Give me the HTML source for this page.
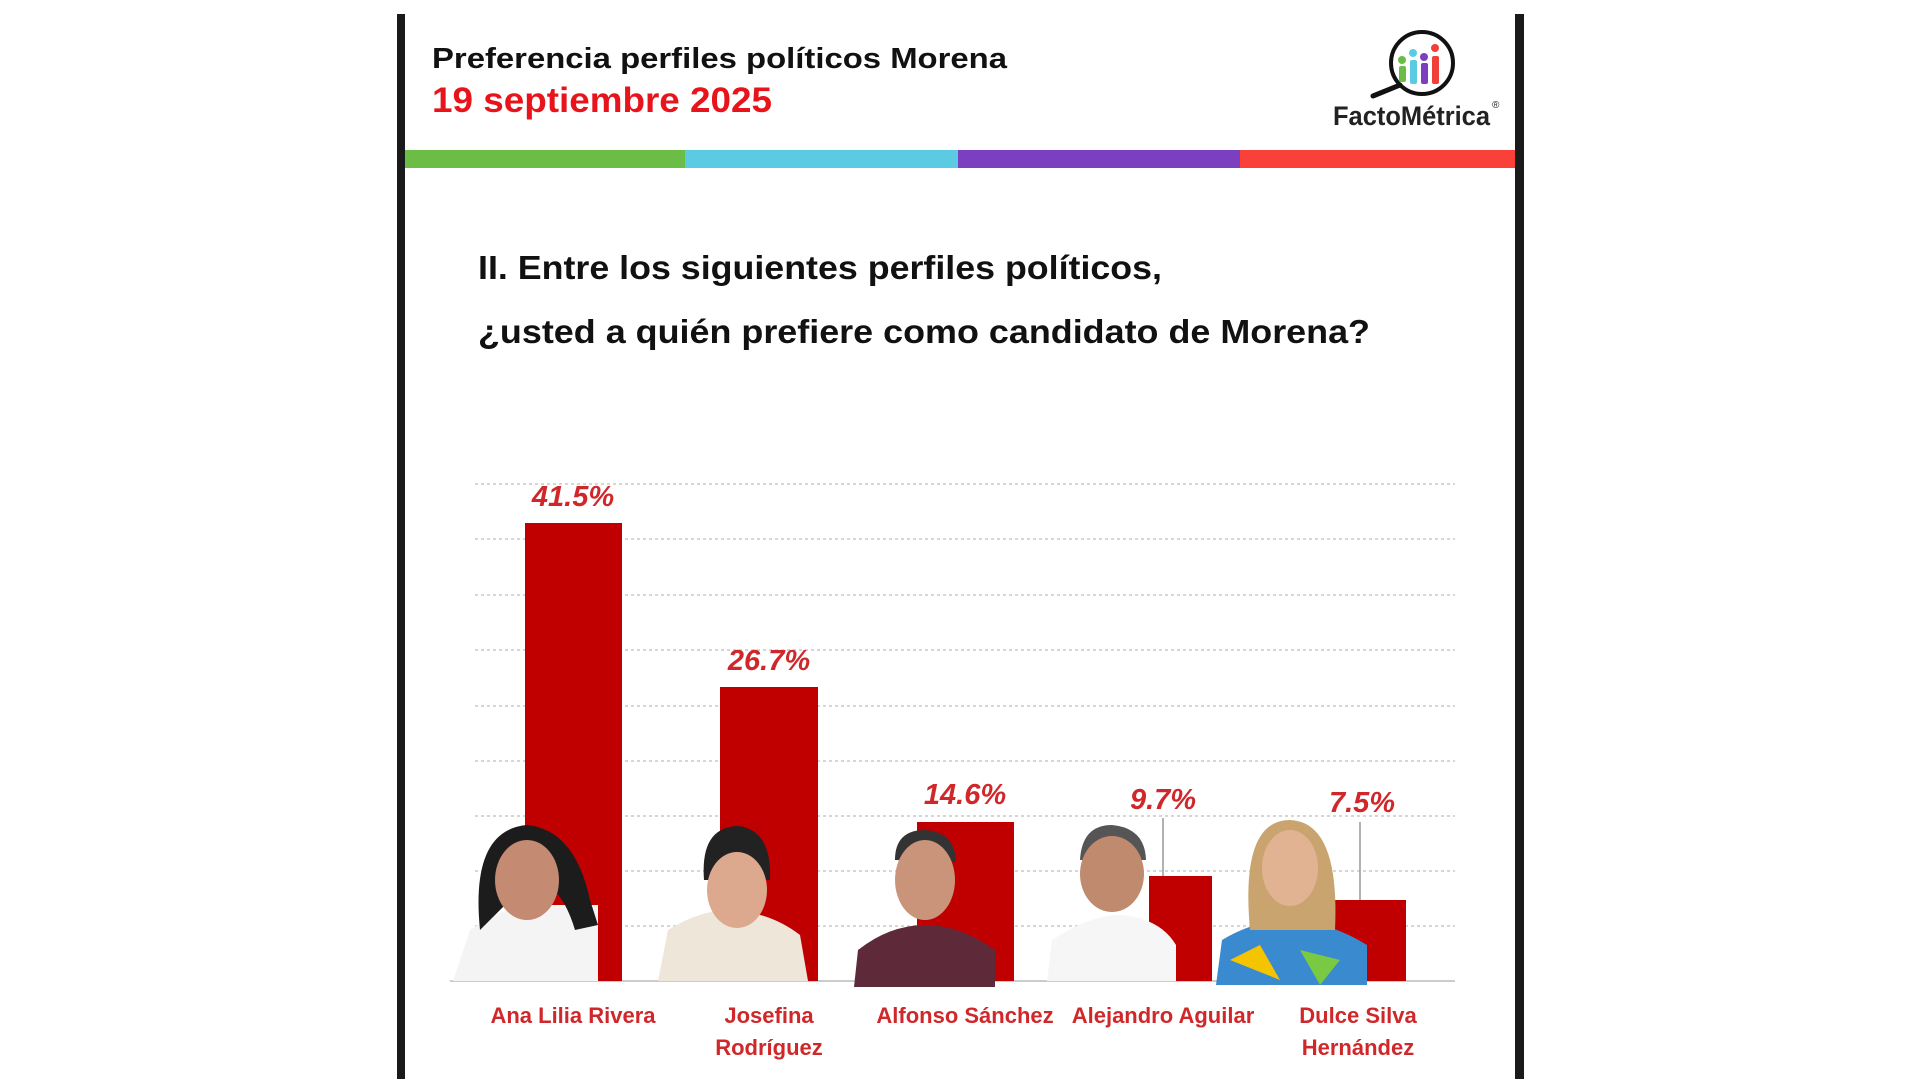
<!DOCTYPE html>
<html><head><meta charset="utf-8"><style>
html,body{margin:0;padding:0;background:#fff;}
svg{display:block}
</style></head><body>
<svg width="1920" height="1079" viewBox="0 0 1920 1079" xmlns="http://www.w3.org/2000/svg" font-family="Liberation Sans, sans-serif">
<rect width="1920" height="1079" fill="#fff"/>
<rect x="397" y="14" width="8" height="1065" fill="#1a1a1a"/>
<rect x="1515" y="14" width="9" height="1065" fill="#1a1a1a"/>
<text x="432" y="68" font-size="29" font-weight="bold" fill="#111" textLength="575" lengthAdjust="spacingAndGlyphs">Preferencia perfiles políticos Morena</text>
<text x="432" y="112" font-size="35" font-weight="bold" fill="#e8141c" textLength="340" lengthAdjust="spacingAndGlyphs">19 septiembre 2025</text>
<!-- logo -->
<circle cx="1422" cy="63" r="31" fill="none" stroke="#111" stroke-width="4"/>
<line x1="1400" y1="85" x2="1373" y2="96" stroke="#111" stroke-width="5" stroke-linecap="round"/>
<rect x="1399" y="66" width="7" height="16" rx="2" fill="#6bbd45"/><circle cx="1402" cy="60" r="4" fill="#6bbd45"/>
<rect x="1410" y="60" width="7" height="24" rx="2" fill="#5bcbe3"/><circle cx="1413" cy="53" r="4" fill="#5bcbe3"/>
<rect x="1421" y="63" width="7" height="21" rx="2" fill="#7b3fbf"/><circle cx="1424" cy="57" r="4" fill="#7b3fbf"/>
<rect x="1432" y="56" width="7" height="28" rx="2" fill="#f0403a"/><circle cx="1435" cy="48" r="4" fill="#f0403a"/>
<text x="1333" y="125" font-size="27" font-weight="bold" fill="#222" textLength="157" lengthAdjust="spacingAndGlyphs">FactoMétrica</text>
<text x="1492" y="108" font-size="10" fill="#222">®</text>
<!-- strip -->
<rect x="405" y="150" width="280" height="18" fill="#6bbd45"/>
<rect x="685" y="150" width="273" height="18" fill="#5bcbe3"/>
<rect x="958" y="150" width="282" height="18" fill="#7b3fbf"/>
<rect x="1240" y="150" width="275" height="18" fill="#f9413a"/>
<!-- question -->
<text x="478" y="279" font-size="33" font-weight="bold" fill="#111" textLength="684" lengthAdjust="spacingAndGlyphs">II. Entre los siguientes perfiles políticos,</text>
<text x="478" y="343" font-size="33" font-weight="bold" fill="#111" textLength="892" lengthAdjust="spacingAndGlyphs">¿usted a quién prefiere como candidato de Morena?</text>
<!-- grid -->
<g stroke="#d6d6d6" stroke-width="2" stroke-dasharray="3 3">
<line x1="475" y1="484" x2="1455" y2="484"/><line x1="475" y1="539" x2="1455" y2="539"/>
<line x1="475" y1="595" x2="1455" y2="595"/><line x1="475" y1="650" x2="1455" y2="650"/>
<line x1="475" y1="706" x2="1455" y2="706"/><line x1="475" y1="761" x2="1455" y2="761"/>
<line x1="475" y1="816" x2="1455" y2="816"/><line x1="475" y1="871" x2="1455" y2="871"/>
<line x1="475" y1="926" x2="1455" y2="926"/>
</g>
<line x1="450" y1="981" x2="1455" y2="981" stroke="#ccc" stroke-width="2"/>
<!-- bars -->
<g fill="#c00000">
<rect x="525" y="523" width="97" height="458"/>
<rect x="720" y="687" width="98" height="294"/>
<rect x="917" y="822" width="97" height="159"/>
<rect x="1149" y="876" width="63" height="105"/>
<rect x="1335" y="900" width="71" height="81"/>
</g>
<line x1="1163" y1="818" x2="1163" y2="876" stroke="#999" stroke-width="1.5"/>
<line x1="1360" y1="822" x2="1360" y2="900" stroke="#999" stroke-width="1.5"/>
<!-- photos -->
<g>
<path d="M453 981 L470 930 Q500 910 525 905 L598 905 L598 981Z" fill="#f4f4f4"/>
<path d="M480 930 Q470 830 527 825 Q575 830 590 900 L598 925 L575 930 Q560 880 530 880 Z" fill="#1c1c1c"/>
<ellipse cx="527" cy="880" rx="32" ry="40" fill="#c48a72"/>
<path d="M658 981 L668 930 Q700 910 730 910 Q770 912 800 935 L808 981Z" fill="#efe6da"/>
<path d="M704 880 Q700 827 738 826 Q772 830 770 880 Z" fill="#222"/>
<ellipse cx="737" cy="890" rx="30" ry="38" fill="#dca88e"/>
<path d="M854 987 L858 950 Q890 925 925 925 Q960 925 995 950 L995 987Z" fill="#5e2a3a"/>
<path d="M895 860 Q895 830 925 830 Q955 832 956 862 Z" fill="#333"/>
<ellipse cx="925" cy="880" rx="30" ry="40" fill="#c99479"/>
<path d="M1047 981 L1052 940 Q1090 915 1120 915 Q1160 918 1176 945 L1176 981Z" fill="#f6f6f6"/>
<path d="M1080 860 Q1082 825 1112 825 Q1145 828 1146 860 Z" fill="#555"/>
<ellipse cx="1112" cy="874" rx="32" ry="38" fill="#c08a6e"/>
<path d="M1216 985 L1222 940 Q1255 920 1290 920 Q1330 922 1367 945 L1367 985Z" fill="#3a8ad0"/>
<path d="M1230 960 L1260 945 L1280 980 Z" fill="#f5c400"/><path d="M1300 950 L1340 960 L1320 985Z" fill="#7ac943"/>
<path d="M1250 930 Q1240 820 1290 820 Q1340 822 1335 930 Z" fill="#c9a46e"/>
<ellipse cx="1290" cy="868" rx="28" ry="38" fill="#e2b393"/>
</g>
<!-- value labels -->
<g font-size="29" font-weight="bold" font-style="italic" fill="#d0282a" text-anchor="middle">
<text x="573" y="506">41.5%</text>
<text x="769" y="670">26.7%</text>
<text x="965" y="804">14.6%</text>
<text x="1163" y="809">9.7%</text>
<text x="1362" y="812">7.5%</text>
</g>
<!-- names -->
<g font-size="22" font-weight="bold" fill="#d0282a" text-anchor="middle">
<text x="573" y="1023">Ana Lilia Rivera</text>
<text x="769" y="1023">Josefina</text>
<text x="769" y="1055">Rodríguez</text>
<text x="965" y="1023">Alfonso Sánchez</text>
<text x="1163" y="1023">Alejandro Aguilar</text>
<text x="1358" y="1023">Dulce Silva</text>
<text x="1358" y="1055">Hernández</text>
</g>
</svg>
</body></html>
